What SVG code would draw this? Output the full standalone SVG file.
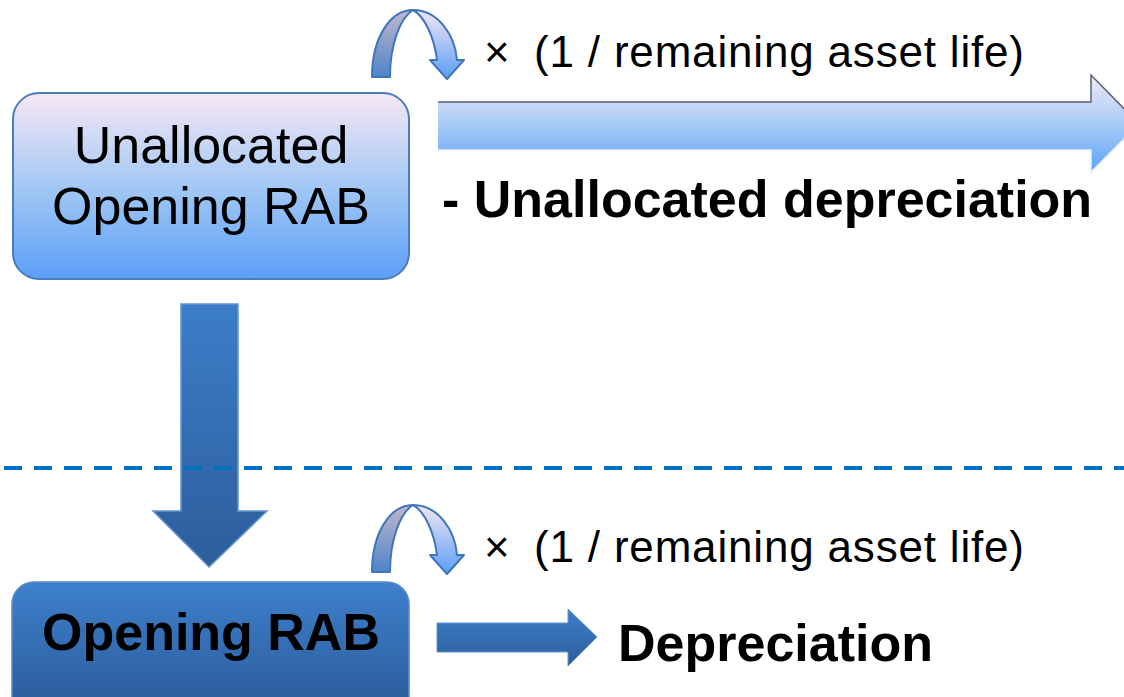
<svg xmlns="http://www.w3.org/2000/svg" width="1124" height="697" viewBox="0 0 1124 697">
  <defs>
    <linearGradient id="gPale" x1="0" y1="0" x2="0" y2="1">
      <stop offset="0" stop-color="#f6e8f5"/>
      <stop offset="0.5" stop-color="#a3c8f4"/>
      <stop offset="1" stop-color="#5c9ff8"/>
    </linearGradient>
    <linearGradient id="gBigArrow" gradientUnits="userSpaceOnUse" x1="0" y1="75" x2="0" y2="172">
      <stop offset="0" stop-color="#f3e8f5"/>
      <stop offset="0.5" stop-color="#a8ccf6"/>
      <stop offset="1" stop-color="#5ea2f8"/>
    </linearGradient>
    <linearGradient id="gDark" x1="0" y1="0" x2="0" y2="1">
      <stop offset="0" stop-color="#3c7ec9"/>
      <stop offset="1" stop-color="#2d5d9b"/>
    </linearGradient>
    <linearGradient id="gBottomBox" gradientUnits="userSpaceOnUse" x1="0" y1="582" x2="0" y2="697">
      <stop offset="0" stop-color="#3d80cc"/>
      <stop offset="1" stop-color="#2e5f9f"/>
    </linearGradient>
    <linearGradient id="gLoopLeft" x1="0" y1="0" x2="0" y2="1">
      <stop offset="0" stop-color="#c4b6cc"/>
      <stop offset="1" stop-color="#4d84c8"/>
    </linearGradient>
    <linearGradient id="gLoopRight" x1="0" y1="0" x2="0" y2="1">
      <stop offset="0" stop-color="#f2e6f4"/>
      <stop offset="1" stop-color="#5a9ef6"/>
    </linearGradient>
    <!-- curved "multiply" loop arrow, reused for both rows -->
    <g id="loop">
      <path d="M413,10 C438,10 455,35 457,60 L464,60 L447,79 L430,60 L437,60 C434,36 424,16 413,10 Z" fill="url(#gLoopRight)" stroke="#3f76bb" stroke-width="2" stroke-linejoin="round"/>
      <path d="M372,77 C372,38 390,10 413,10 C400,18 390,45 390,77 Z" fill="url(#gLoopLeft)" stroke="#3f76bb" stroke-width="2" stroke-linejoin="round"/>
    </g>
  </defs>
  <style>
    .reg { font-family: "Liberation Sans", Arial, sans-serif; fill: #000; }
    .bold { font-family: "Liberation Sans", Arial, sans-serif; font-weight: bold; fill: #000; }
    .factor { font-family: "Liberation Sans", Arial, sans-serif; font-size: 44px; fill: #000; }
  </style>

  <rect width="1124" height="697" fill="#ffffff"/>

  <g id="connectors">
    <!-- large right arrow: unallocated depreciation -->
    <g id="arrow-unallocated">
      <path d="M438,102 L1091,102 L1091,75 L1139,124 L1091,172 L1091,150 L438,150 Z" fill="url(#gBigArrow)"/>
      <path d="M438,102 L1091,102 L1091,75 L1139,124" fill="none" stroke="#5a6272" stroke-width="1.5"/>
      <path d="M438,150 L1091,150 L1091,172 L1139,124" fill="none" stroke="#e8f0fc" stroke-width="1.5"/>
    </g>
    <!-- downward arrow between the two boxes -->
    <path id="arrow-down" d="M181,304 L238,304 L238,511 L267,511 L209,567 L153,511 L181,511 Z" fill="url(#gDark)" stroke="#6495d2" stroke-width="1.5" stroke-linejoin="miter"/>
    <!-- small right arrow: depreciation -->
    <path id="arrow-depreciation" d="M437,623 L568,623 L568,609 L597,637 L568,666 L568,652 L437,652 Z" fill="url(#gDark)" stroke="#6495d2" stroke-width="1"/>
    <!-- loop arrows -->
    <use href="#loop"/>
    <use href="#loop" transform="translate(0,495)"/>
  </g>

  <!-- dashed separator -->
  <line id="separator" x1="4" y1="468" x2="1124" y2="468" stroke="#0070c0" stroke-width="4" stroke-dasharray="18 12"/>

  <g id="node-unallocated">
    <rect x="13" y="93" width="396" height="186" rx="26" ry="26" fill="url(#gPale)" stroke="#4a7ebb" stroke-width="2"/>
    <text class="reg" x="211" y="163" font-size="52" text-anchor="middle">Unallocated</text>
    <text class="reg" x="211" y="224" font-size="52" text-anchor="middle">Opening RAB</text>
  </g>

  <g id="node-opening">
    <rect x="12" y="582" width="397" height="140" rx="22" ry="22" fill="url(#gBottomBox)" stroke="#5a8ac8" stroke-width="1.5"/>
    <text class="bold" x="211" y="650" font-size="52" text-anchor="middle">Opening RAB</text>
  </g>

  <text id="label-top-factor" class="factor" y="67"><tspan x="484">×</tspan><tspan x="534" textLength="490" lengthAdjust="spacing">(1 / remaining asset life)</tspan></text>
  <text id="label-bottom-factor" class="factor" y="562"><tspan x="484">×</tspan><tspan x="534" textLength="490" lengthAdjust="spacing">(1 / remaining asset life)</tspan></text>

  <text id="label-unallocated-dep" class="bold" x="442" y="217" font-size="52">- Unallocated depreciation</text>
  <text id="label-dep" class="bold" x="618" y="661" font-size="52">Depreciation</text>
</svg>
